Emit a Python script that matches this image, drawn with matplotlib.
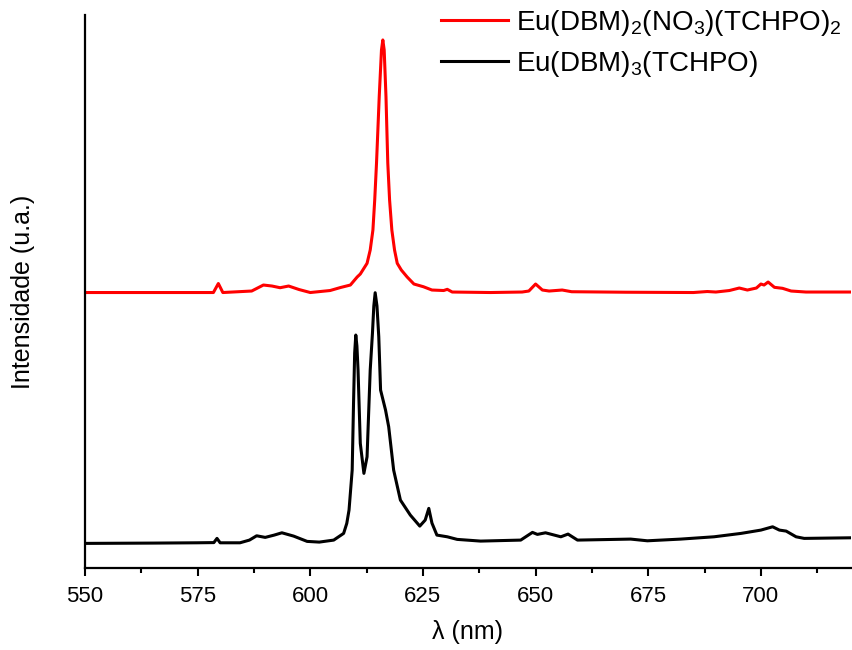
import matplotlib.pyplot as plt
from matplotlib.ticker import MultipleLocator

plt.rcParams['font.family'] = ['Liberation Sans', 'DejaVu Sans']
plt.rcParams['mathtext.default'] = 'regular'

# wavelength (nm) and intensity (arbitrary units)
lam_red = [550, 565, 578.5, 579.6, 580.6, 587, 589.6, 591.5, 593.3, 595.2, 597.5, 600,
           604.4, 606.7, 608.9, 610.4, 611.1, 612.6, 613.3, 613.9, 614.3, 614.7, 615.0,
           615.3, 615.8, 616.1, 616.4, 616.8, 617.0, 617.2, 617.6, 618.1, 618.7, 619.3,
           620.2, 621.5, 623, 625.1, 627, 629.6, 630.4, 631.5, 640,
           647, 648.5, 650, 651.5, 653, 655.9, 658, 670, 685, 688.1, 690, 693, 695.2,
           697, 699, 700, 700.7, 701.6, 703, 704.8, 706.7, 710, 720]
int_red = [275.5, 275.5, 275.5, 284.5, 275.5, 277, 283, 282, 280.3, 282, 278.5, 275.5,
           277.5, 280.5, 283, 291, 294, 304.7, 318, 338, 368, 405, 438,
           471.3, 518, 528, 518, 471.3, 438, 405, 368, 338, 318, 304.7,
           298, 291, 284, 281.3, 278, 277.5, 278.7, 276, 275.5,
           276, 277, 284, 278, 277, 278, 276.3, 275.8, 275.5, 276.5, 276, 277.5, 280,
           278, 280, 284, 283, 286, 280.7, 279.7, 277, 276, 276]

lam_black = [550, 565, 574.8, 578.6, 579.3, 580, 584.4, 586.5, 588.1, 590, 592, 593.7,
             596.3, 599.3, 602, 605.2, 607.4, 608.1, 608.6, 609.3, 609.6, 609.85, 610.1,
             610.35, 610.6, 611.1, 611.9, 612.6, 613.3, 613.8, 614.1, 614.4, 614.8, 615.2,
             615.6, 616.7, 617.4, 618.5, 620, 622.2, 624.3, 625.5, 626.3, 627, 628.1, 630.4,
             632.6, 637.8, 646.7, 649.3, 650.4, 652.2, 655.6, 657.2, 659.3, 671.1, 674.8,
             682.2, 689.6, 695.6, 700, 702.6, 704.1, 705.6, 707.8, 709.6, 720]
int_black = [24.7, 25, 25.3, 25.5, 29.7, 25.3, 25.3, 28, 32.3, 30.7, 33, 35.3,
             32, 26.7, 26, 28, 34.7, 44.7, 58, 98, 165, 215, 233,
             222, 198, 124.7, 94.7, 111.3, 198, 235, 262, 275.3, 262, 231.3,
             178, 158, 141.3, 98, 68, 53, 42, 48, 59.7, 45, 33, 31.3,
             28.7, 27, 28, 35.7, 33.7, 35.3, 31.3, 34, 28, 29, 27.3,
             29, 31.3, 34.7, 38, 41.3, 38, 37, 31.3, 29.7, 30.3]

labels = [r'Eu(DBM)$_2$(NO$_3$)(TCHPO)$_2$', r'Eu(DBM)$_3$(TCHPO)']

fig = plt.figure(figsize=(8.53, 6.5), dpi=100)
ax = fig.add_axes([0.0996, 0.126, 0.8981, 0.851])

ax.plot(lam_red, int_red, color='red', lw=2.2, label=labels[0])
ax.plot(lam_black, int_black, color='black', lw=2.2, label=labels[1])

ax.set_xlim(550, 720)
ax.set_ylim(0, 553)
ax.xaxis.set_major_locator(MultipleLocator(25))
ax.xaxis.set_minor_locator(MultipleLocator(12.5))
ax.set_yticks([])
ax.spines['top'].set_visible(False)
ax.spines['right'].set_visible(False)
ax.spines['left'].set_linewidth(1.6)
ax.spines['bottom'].set_linewidth(1.6)
ax.tick_params(axis='x', which='major', length=6, width=1.5, labelsize=16, pad=7)
ax.tick_params(axis='x', which='minor', length=3.5, width=1.5)

ax.set_xlabel('λ (nm)', fontsize=18, labelpad=9)
ax.set_ylabel('Intensidade (u.a.)', fontsize=18, labelpad=36)

ax.legend(loc='upper left', bbox_to_anchor=(0.465, 1.013), borderaxespad=0, borderpad=0,
          frameon=False, fontsize=20, handlelength=2.4, handletextpad=0.3,
          labelspacing=0.4)

fig.savefig('out.png', dpi=100)
